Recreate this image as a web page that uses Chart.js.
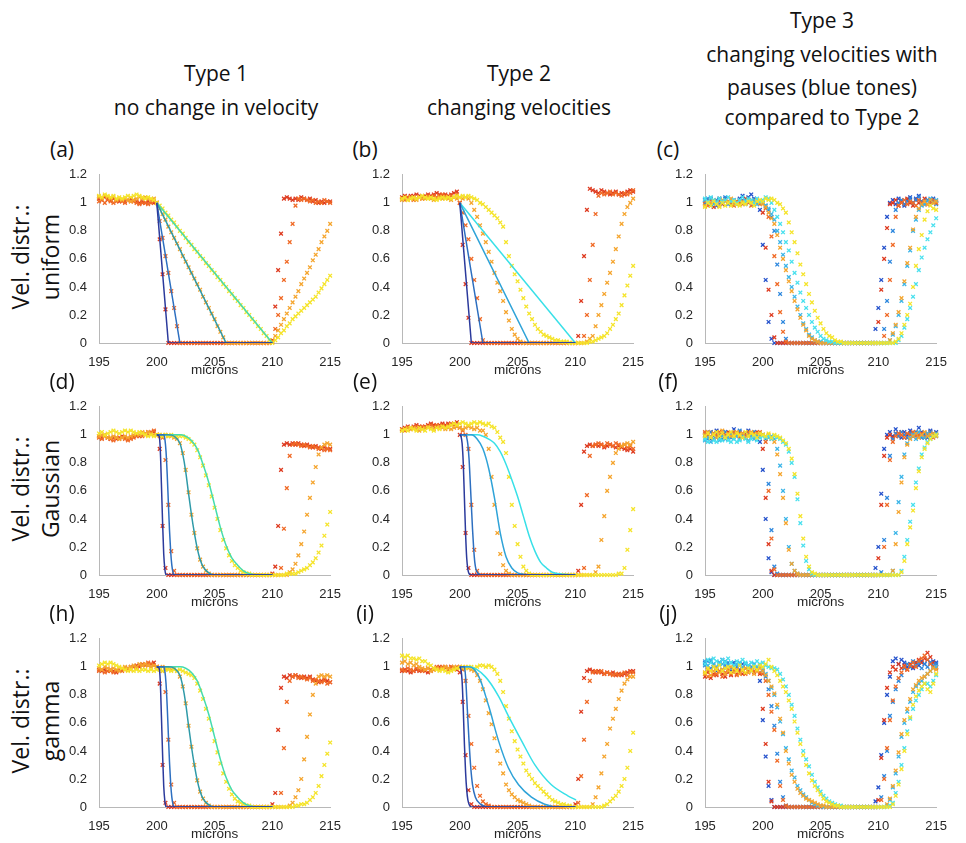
<!DOCTYPE html>
<html lang="en">
<head>
<meta charset="UTF-8">
<title>Velocity distributions - Type 1, 2, 3</title>
<script src="https://cdn.jsdelivr.net/npm/chart.js"></script>
<style>
    body {
        margin: 0px;
        width: 966px;
        height: 843px;
        position: relative;
        overflow: hidden;
        background: white;
        font-family: "Open Sans", sans-serif;
        color: #111;
    }
    /* column titles */
    .head {
        position: absolute;
        width: 320px;
        text-align: center;
        font-size: 21px;
        white-space: nowrap;
        transform: translate(-50%, -50%);
    }
    /* (a), (b) ... */
    .tag {
        position: absolute;
        font-size: 21px;
        transform: translate(-50%, -50%);
    }
    /* rotated row labels */
    .side {
        position: absolute;
        font-size: 23px;
        white-space: nowrap;
        transform: translate(-50%, -50%) rotate(-90deg);
    }
    .box {
        position: absolute;
        width: 291px;
        height: 215px;
    }
</style>
</head>
<body>

<div class="head" style="left:216px; top:73px;">Type 1</div>
<div class="head" style="left:216px; top:107px;">no change in velocity</div>
<div class="head" style="left:519px; top:73px;">Type 2</div>
<div class="head" style="left:519px; top:107px;">changing velocities</div>
<div class="head" style="left:822px; top:20px;">Type 3</div>
<div class="head" style="left:822px; top:54px;">changing velocities with</div>
<div class="head" style="left:822px; top:87px;">pauses (blue tones)</div>
<div class="head" style="left:822px; top:117px;">compared to Type 2</div>

<div class="side" style="left:20px; top:257px;">Vel. distr.:</div>
<div class="side" style="left:50px; top:257px;">uniform</div>
<div class="side" style="left:20px; top:489px;">Vel. distr.:</div>
<div class="side" style="left:50px; top:489px;">Gaussian</div>
<div class="side" style="left:20px; top:721px;">Vel. distr.:</div>
<div class="side" style="left:50px; top:721px;">gamma</div>

<script>
    // shared x positions of the measured points (microns)
    const xs = [195,195.25,195.5,195.75, 196,196.25,196.5,196.75, 197,197.25,197.5,197.75, 198,198.25,198.5,198.75, 199,199.25,199.5,199.75,
        200,200.25,200.5,200.75, 201,201.25,201.5,201.75, 202,202.25,202.5,202.75, 203,203.25,203.5,203.75, 204,204.25,204.5,204.75,
        205,205.25,205.5,205.75, 206,206.25,206.5,206.75, 207,207.25,207.5,207.75, 208,208.25,208.5,208.75, 209,209.25,209.5,209.75,
        210,210.25,210.5,210.75, 211,211.25,211.5,211.75, 212,212.25,212.5,212.75, 213,213.25,213.5,213.75, 214,214.25,214.5,214.75, 215];

    const xTicks = [195, 200, 205, 210, 215];
    const yTicks = [0, 0.2, 0.4, 0.6, 0.8, 1, 1.2];
    const yTickLabels = ['0', '0.2', '0.4', '0.6', '0.8', '1', '1.2'];

    // theory lines, uniform velocity distribution (a, b)
    const uniX1 = [200, 201, 210], uniY1 = [1, 0, 0];
    const uniX2 = [200, 202, 210], uniY2 = [1, 0, 0];
    const uniX3 = [200, 206, 210], uniY3 = [1, 0, 0];
    const uniX4 = [200, 210], uniY4 = [1, 0];

    // theory lines, type 1 gaussian / gamma (d, h)
    const t1X1 = [200,200.2,200.3,200.4,200.5,200.6,200.7,200.8,210];
    const t1Y1 = [1,0.99,0.9,0.65,0.38,0.15,0.04,0,0];
    const t1X2 = [200,200.6,200.7,200.8,200.9,201,201.1,201.2,201.3,201.4,201.5,210];
    const t1Y2 = [1,1,0.97,0.88,0.72,0.52,0.32,0.17,0.07,0.02,0,0];
    const t1X3 = [200,201,201.5,202,202.25,202.5,202.75,203,203.25,203.5,203.75,204,204.5,205,210];
    const t1Y3 = [1,1,0.99,0.94,0.86,0.74,0.58,0.43,0.3,0.19,0.11,0.06,0.015,0,0];
    const t1X4 = [200,202,202.5,203,203.5,204,204.5,205,205.5,206,206.5,207,207.5,208,209,210];
    const t1Y4 = [1,1,0.99,0.96,0.9,0.79,0.66,0.5,0.34,0.21,0.12,0.07,0.03,0.01,0,0];

    // theory lines, type 2 gaussian (e)
    const eX1 = [200,200.1,200.2,200.3,200.4,200.5,200.6,200.7,200.8,201,210];
    const eY1 = [1,0.99,0.94,0.8,0.55,0.3,0.12,0.04,0.01,0,0];
    const eX2 = [200,200.5,200.6,200.7,200.8,200.9,201,201.1,201.2,201.3,201.4,201.6,202,210];
    const eY2 = [1,1,0.98,0.93,0.83,0.67,0.5,0.33,0.19,0.09,0.04,0.01,0,0];
    const eX3 = [200,201,201.5,202,202.5,203,203.5,204,204.5,205,205.5,206,210];
    const eY3 = [1,1,0.97,0.9,0.76,0.55,0.3,0.13,0.05,0.015,0.005,0,0];
    const eX4 = [200,201.5,202,202.5,203,203.5,204,204.5,205,205.5,206,206.5,207,207.5,208,209,210];
    const eY4 = [1,1,0.99,0.97,0.94,0.88,0.79,0.68,0.56,0.42,0.28,0.17,0.09,0.05,0.02,0.005,0];

    // theory lines, type 2 gamma (i)
    const iX1 = [200,200.1,200.2,200.3,200.4,200.5,200.6,200.7,200.8,201,210];
    const iY1 = [1,0.98,0.9,0.7,0.45,0.25,0.12,0.05,0.02,0,0];
    const iX2 = [200,200.4,200.5,200.65,200.8,200.95,201.1,201.35,201.8,202.5,210];
    const iY2 = [1,1,0.93,0.7,0.47,0.28,0.16,0.07,0.02,0,0];
    const iX3 = [200,200.8,201.65,202.5,203.36,204.2,205.07,206.2,207.35,208.5,210];
    const iY3 = [1,1,0.93,0.72,0.47,0.28,0.16,0.07,0.02,0,0];
    const iX4 = [200,200.8,202.2,203.36,204.2,205.36,206.5,207.9,209.35,210.06];
    const iY4 = [1,1,0.93,0.79,0.65,0.47,0.3,0.16,0.08,0.05];

    // (a) type 1, uniform
    const a_red = [1.03,1.02,1.04,1.03, 1.02,1.03,1.02,1.01, 1.02,1.01,1.02,1.03, 1.02,1.01,1.00,1.01, 1.00,1.01,1.02,1.00,
        1.00,0.74,0.49,0.24, 0,0,0,0, 0,0,0,0, 0,0,0,0, 0,0,0,0,
        0,0,0,0, 0,0,0,0, 0,0,0,0, 0,0,0,0, 0,0,0,0,
        0.02,0.26,0.52,0.78, 1.03,1.04,1.03,1.02, 1.03,1.02,1.04,1.03, 1.02,1.03,1.01,1.02, 1.00,1.01,1.00,1.01, 1.01];
    const a_orred = [1.01,1.02,1.00,1.02, 1.01,1.00,1.01,1.02, 1.01,1.00,1.02,1.01, 1.01,1.00,0.99,1.00, 1.00,0.99,1.00,1.01,
        1.00,0.87,0.75,0.62, 0.50,0.37,0.25,0.12, 0,0,0,0, 0,0,0,0, 0,0,0,0,
        0,0,0,0, 0,0,0,0, 0,0,0,0, 0,0,0,0, 0,0,0,0,
        0.01,0.10,0.20,0.32, 0.45,0.58,0.72,0.85, 0.98,1.03,1.02,1.03, 1.02,1.01,1.02,1.00, 1.01,1.00,1.02,1.01, 1.00];
    const a_orng = [1.04,1.03,1.05,1.04, 1.03,1.04,1.02,1.03, 1.02,1.03,1.02,1.01, 1.02,1.03,1.04,1.03, 1.04,1.03,1.02,1.03,
        1.00,0.96,0.92,0.88, 0.83,0.79,0.75,0.71, 0.67,0.62,0.58,0.54, 0.50,0.46,0.42,0.38, 0.33,0.29,0.25,0.21,
        0.17,0.12,0.08,0.04, 0,0,0,0, 0,0,0,0, 0,0,0,0, 0,0,0,0,
        0.01,0.05,0.09,0.13, 0.17,0.21,0.25,0.29, 0.33,0.37,0.42,0.46, 0.50,0.54,0.59,0.63, 0.67,0.72,0.76,0.80, 0.85];
    const a_yel = [1.05,1.04,1.06,1.05, 1.04,1.05,1.03,1.04, 1.03,1.04,1.05,1.04, 1.05,1.06,1.05,1.04, 1.03,1.04,1.03,1.02,
        1.00,0.98,0.96,0.93, 0.91,0.88,0.86,0.83, 0.80,0.78,0.75,0.72, 0.70,0.67,0.65,0.62, 0.60,0.57,0.55,0.52,
        0.50,0.47,0.45,0.42, 0.40,0.37,0.35,0.32, 0.30,0.27,0.25,0.22, 0.20,0.17,0.15,0.12, 0.10,0.07,0.05,0.02,
        0.00,0.02,0.04,0.07, 0.09,0.12,0.14,0.17, 0.19,0.21,0.23,0.25, 0.27,0.29,0.31,0.33, 0.36,0.39,0.42,0.45, 0.48];

    // (b) type 2, uniform
    const b_red = [1.04,1.05,1.04,1.05, 1.05,1.06,1.05,1.04, 1.05,1.06,1.05,1.06, 1.07,1.06,1.05,1.06, 1.05,1.06,1.07,1.08,
        1.00,0.70,0.42,0.18, 0,0,0,0, 0,0,0,0, 0,0,0,0, 0,0,0,0,
        0,0,0,0, 0,0,0,0, 0,0,0,0, 0,0,0,0, 0,0,0,0,
        0.00,0.05,0.30,0.62, 0.95,1.10,1.09,1.08, 1.07,1.09,1.08,1.07, 1.06,1.07,1.08,1.06, 1.07,1.06,1.08,1.09, 1.08];
    const b_orred = [1.03,1.02,1.04,1.03, 1.02,1.03,1.04,1.03, 1.04,1.05,1.04,1.05, 1.04,1.05,1.06,1.05, 1.04,1.05,1.04,1.06,
        1.00,0.93,0.84,0.74, 0.60,0.45,0.32,0.17, 0.02,0,0,0, 0,0,0,0, 0,0,0,0,
        0,0,0,0, 0,0,0,0, 0,0,0,0, 0,0,0,0, 0,0,0,0,
        0,0,0,0.05, 0.20,0.45,0.70,0.92, 1.05,1.07,1.06,1.07, 1.08,1.06,1.07,1.06, 1.05,1.07,1.06,1.07, 1.09];
    const b_orng = [1.02,1.03,1.02,1.04, 1.03,1.02,1.04,1.03, 1.03,1.04,1.03,1.02, 1.03,1.04,1.03,1.04, 1.03,1.02,1.04,1.03,
        1.04,1.03,1.04,1.03, 1.00,0.95,0.90,0.84, 0.78,0.72,0.65,0.58, 0.50,0.43,0.37,0.30, 0.22,0.16,0.10,0.06,
        0.03,0.01,0,0, 0,0,0,0, 0,0,0,0, 0,0,0,0, 0,0,0,0,
        0,0,0,0, 0.01,0.03,0.05,0.12, 0.20,0.27,0.35,0.43, 0.50,0.58,0.67,0.76, 0.85,0.92,0.97,1.00, 1.03];
    const b_yel = [1.03,1.04,1.02,1.03, 1.04,1.03,1.04,1.05, 1.04,1.03,1.04,1.03, 1.02,1.03,1.04,1.03, 1.04,1.03,1.04,1.05,
        1.04,1.05,1.04,1.05, 1.04,1.03,1.02,1.00, 0.99,0.97,0.95,0.93, 0.91,0.89,0.86,0.83, 0.72,0.62,0.55,0.49,
        0.44,0.38,0.32,0.26, 0.21,0.17,0.13,0.10, 0.08,0.06,0.05,0.04, 0.03,0.02,0.02,0.01, 0.01,0.01,0,0,
        0,0,0,0, 0,0.01,0.01,0.02, 0.03,0.04,0.05,0.07, 0.10,0.13,0.17,0.21, 0.27,0.34,0.41,0.48, 0.55];

    // (c) type 3, uniform
    const c_dkblue = [1.02,0.99,1.03,1.01, 0.98,1.02,1.00,1.03, 1.01,0.99,1.02,1.00, 1.03,1.05,1.02,1.04, 1.06,1.03,1.00,0.95,
        0.70,0.45,0.15,0.03, 0,0,0,0, 0,0,0,0, 0,0,0,0, 0,0,0,0,
        0,0,0,0, 0,0,0,0, 0,0,0,0, 0,0,0,0, 0,0,0,0.10,
        0.25,0.45,0.68,0.90, 1.00,1.02,0.99,1.03, 1.01,0.98,1.02,1.04, 1.00,1.03,1.05,1.01, 0.99,1.02,1.00,1.03, 1.01];
    const c_red = [0.99,1.02,1.00,0.97, 1.01,1.03,0.99,1.02, 1.00,1.02,1.01,0.99, 1.02,1.00,1.03,1.01, 1.02,1.00,1.01,1.00,
        0.93,0.68,0.38,0.20, 0.04,0,0,0, 0,0,0,0, 0,0,0,0, 0,0,0,0,
        0,0,0,0, 0,0,0,0, 0,0,0,0, 0,0,0,0, 0,0,0,0,
        0.15,0.38,0.60,0.82, 0.99,1.00,1.02,0.98, 1.01,0.99,1.03,1.00, 0.98,1.02,1.00,1.01, 1.03,0.99,1.01,1.00, 1.00];
    const c_blue = [1.00,1.03,0.98,1.01, 1.02,0.99,1.01,1.04, 0.99,1.02,1.00,1.01, 1.00,1.02,0.99,1.02, 1.01,0.99,1.02,1.00,
        1.00,0.98,0.95,0.90, 0.80,0.56,0.35,0.15, 0.03,0,0,0, 0,0,0,0, 0,0,0,0,
        0,0,0,0, 0,0,0,0, 0,0,0,0, 0,0,0,0, 0,0,0,0,
        0,0,0.10,0.30, 0.58,0.80,0.95,1.00, 1.02,0.99,1.01,1.03, 1.00,1.02,1.04,1.01, 0.99,1.02,1.00,1.01, 0.99];
    const c_orred = [1.01,0.98,1.02,1.00, 0.99,1.01,1.00,1.02, 1.01,1.00,0.98,1.01, 1.00,0.99,1.01,1.00, 0.98,1.01,1.00,0.99,
        1.00,0.96,0.90,0.76, 0.62,0.42,0.22,0.08, 0.01,0,0,0, 0,0,0,0, 0,0,0,0,
        0,0,0,0, 0,0,0,0, 0,0,0,0, 0,0,0,0, 0,0,0,0,
        0,0,0.05,0.20, 0.45,0.70,0.90,0.98, 1.00,1.02,0.99,1.01, 1.00,0.98,1.02,1.00, 1.01,0.99,1.00,1.02, 1.00];
    const c_ltblue = [1.02,1.00,1.03,0.99, 1.01,1.03,1.00,1.02, 1.00,1.02,1.01,0.99, 1.02,1.00,1.02,1.01, 1.00,1.02,0.99,1.01,
        1.00,0.98,0.96,0.92, 0.88,0.80,0.72,0.63, 0.55,0.47,0.40,0.33, 0.26,0.20,0.14,0.10, 0.06,0.04,0.02,0.01,
        0.01,0,0,0, 0,0,0,0, 0,0,0,0, 0,0,0,0, 0,0,0,0,
        0,0,0,0, 0.02,0.06,0.12,0.20, 0.30,0.42,0.55,0.66, 0.80,0.88,0.95,0.98, 0.99,1.01,1.03,1.00, 1.02];
    const c_orng = [0.98,1.01,1.00,1.02, 1.00,0.98,1.02,1.01, 1.01,1.03,0.99,1.00, 0.99,1.01,1.00,1.02, 1.01,1.00,1.02,1.00,
        0.99,0.97,0.93,0.89, 0.85,0.77,0.68,0.60, 0.52,0.44,0.37,0.30, 0.24,0.18,0.13,0.09, 0.05,0.03,0.02,0.01,
        0,0,0,0, 0,0,0,0, 0,0,0,0, 0,0,0,0, 0,0,0,0,
        0,0,0,0, 0.02,0.07,0.13,0.22, 0.32,0.44,0.57,0.68, 0.81,0.90,0.96,0.99, 1.01,0.99,1.02,1.00, 1.01];
    const c_cyan = [1.03,1.01,1.04,1.02, 1.00,1.03,1.01,1.02, 1.04,1.01,1.02,1.00, 1.02,1.04,1.01,1.03, 1.02,1.00,1.03,1.01,
        1.02,1.04,1.03,1.00, 0.95,0.90,0.85,0.79, 0.72,0.66,0.58,0.50, 0.43,0.36,0.30,0.25, 0.20,0.15,0.11,0.08,
        0.05,0.03,0.02,0.01, 0.01,0,0,0, 0,0,0,0, 0,0,0,0, 0,0,0,0,
        0,0,0,0, 0,0,0,0.02, 0.05,0.11,0.17,0.25, 0.33,0.42,0.52,0.61, 0.68,0.74,0.79,0.84, 0.89];
    const c_yel = [0.97,1.00,0.98,1.01, 0.99,0.97,1.00,0.98, 1.00,0.98,1.01,0.99, 0.98,1.00,0.99,1.01, 1.00,0.98,1.01,1.02,
        1.01,1.03,1.02,1.03, 1.02,1.00,0.99,0.96, 0.93,0.86,0.79,0.72, 0.64,0.56,0.49,0.42, 0.35,0.29,0.23,0.18,
        0.14,0.10,0.07,0.05, 0.04,0.02,0.01,0.01, 0,0,0,0, 0,0,0,0, 0,0,0,0,
        0,0,0,0, 0,0,0.01,0.03, 0.07,0.13,0.20,0.28, 0.40,0.55,0.67,0.77, 0.88,0.94,0.98,0.96, 0.95];

    // (d) type 1, gaussian
    const d_red = [0.99,0.98,1.00,0.98, 0.97,0.98,0.97,0.98, 0.99,0.98,0.97,0.98, 0.99,1.00,0.99,1.01, 1.00,1.02,1.01,1.02,
        1.00,0.90,0.35,0.05, 0,0,0,0, 0,0,0,0, 0,0,0,0, 0,0,0,0,
        0,0,0,0, 0,0,0,0, 0,0,0,0, 0,0,0,0, 0,0,0,0,
        0.01,0.06,0.35,0.75, 0.93,0.94,0.93,0.94, 0.93,0.94,0.93,0.92, 0.93,0.92,0.91,0.92, 0.91,0.90,0.91,0.90, 0.90];
    const d_orred = [0.98,0.97,0.99,0.98, 0.97,0.96,0.98,0.97, 0.98,0.97,0.96,0.97, 0.98,0.99,1.00,0.99, 1.01,1.00,1.02,1.03,
        1.00,0.99,0.98,0.82, 0.50,0.17,0.03,0, 0,0,0,0, 0,0,0,0, 0,0,0,0,
        0,0,0,0, 0,0,0,0, 0,0,0,0, 0,0,0,0, 0,0,0,0,
        0,0,0,0.05, 0.33,0.62,0.85,0.93, 0.94,0.93,0.92,0.93, 0.92,0.91,0.92,0.91, 0.90,0.91,0.89,0.90, 0.89];
    const d_orng = [0.99,1.00,0.99,0.98, 0.98,0.99,0.98,0.97, 0.98,0.99,0.98,0.99, 1.00,1.01,1.00,1.02, 1.01,1.02,1.01,1.00,
        1.00,1.00,0.99,1.00, 0.99,0.99,0.98,0.97, 0.94,0.87,0.75,0.59, 0.43,0.30,0.19,0.11, 0.06,0.03,0.01,0,
        0,0,0,0, 0,0,0,0, 0,0,0,0, 0,0,0,0, 0,0,0,0,
        0,0,0,0, 0,0,0.02,0.04, 0.08,0.14,0.22,0.31, 0.43,0.55,0.66,0.77, 0.86,0.91,0.93,0.94, 0.93];
    const d_yel = [1.01,1.02,1.00,1.01, 1.02,1.03,1.02,1.01, 1.02,1.03,1.02,1.03, 1.02,1.01,1.02,1.01, 1.00,0.99,1.00,0.99,
        1.00,1.00,0.99,1.00, 0.99,1.00,0.99,0.99, 0.99,0.99,0.98,0.97, 0.95,0.93,0.89,0.84, 0.78,0.71,0.64,0.56,
        0.48,0.40,0.32,0.25, 0.19,0.14,0.10,0.07, 0.05,0.03,0.02,0.01, 0.01,0,0,0, 0,0,0,0,
        0,0,0,0, 0,0.01,0.01,0.01, 0.01,0.02,0.03,0.04, 0.05,0.07,0.09,0.12, 0.16,0.21,0.28,0.36, 0.45];

    // (e) type 2, gaussian
    const e_red = [1.04,1.05,1.06,1.05, 1.06,1.07,1.06,1.05, 1.06,1.07,1.08,1.07, 1.06,1.07,1.08,1.07, 1.08,1.07,1.08,1.09,
        1.00,0.77,0.30,0.05, 0,0,0,0, 0,0,0,0, 0,0,0,0, 0,0,0,0,
        0,0,0,0, 0,0,0,0, 0,0,0,0, 0,0,0,0, 0,0,0,0,
        0,0.03,0.50,0.88, 0.92,0.93,0.92,0.93, 0.92,0.93,0.91,0.92, 0.93,0.92,0.91,0.92, 0.91,0.90,0.89,0.90, 0.88];
    const e_orred = [1.04,1.03,1.05,1.04, 1.05,1.06,1.05,1.06, 1.05,1.06,1.07,1.06, 1.07,1.06,1.07,1.06, 1.07,1.08,1.07,1.06,
        1.05,1.03,1.00,0.90, 0.50,0.18,0.03,0, 0,0,0,0, 0,0,0,0, 0,0,0,0,
        0,0,0,0, 0,0,0,0, 0,0,0,0, 0,0,0,0, 0,0,0,0,
        0,0,0,0.05, 0.57,0.85,0.92,0.93, 0.94,0.93,0.92,0.94, 0.93,0.92,0.94,0.93, 0.92,0.93,0.91,0.92, 0.90];
    const e_orng = [1.03,1.04,1.05,1.04, 1.05,1.04,1.03,1.04, 1.05,1.06,1.05,1.04, 1.05,1.06,1.05,1.04, 1.05,1.04,1.05,1.06,
        1.05,1.04,1.05,1.06, 1.05,1.04,1.05,1.03, 1.03,1.00,0.90,0.70, 0.50,0.30,0.15,0.07, 0.03,0.01,0,0,
        0,0,0,0, 0,0,0,0, 0,0,0,0, 0,0,0,0, 0,0,0,0,
        0,0,0,0, 0,0,0,0.02, 0.06,0.25,0.42,0.60, 0.70,0.80,0.87,0.90, 0.92,0.93,0.94,0.93, 0.95];
    const e_yel = [1.03,1.04,1.03,1.05, 1.04,1.03,1.05,1.04, 1.03,1.05,1.04,1.03, 1.05,1.04,1.06,1.05, 1.06,1.07,1.08,1.07,
        1.08,1.09,1.08,1.07, 1.08,1.09,1.08,1.09, 1.08,1.07,1.08,1.06, 1.05,1.02,0.98,0.95, 0.87,0.70,0.50,0.35,
        0.22,0.13,0.06,0.03, 0.01,0,0,0, 0,0,0,0, 0,0,0,0, 0,0,0,0,
        0,0,0,0, 0,0,0,0, 0,0,0,0, 0,0,0,0.01, 0.01,0.05,0.18,0.32, 0.47];

    // (f) type 3, gaussian
    const f_dkblue = [0.99,1.02,0.97,1.01, 1.03,0.98,1.00,1.02, 0.99,1.01,1.04,1.00, 1.02,0.98,1.01,1.03, 1.00,1.02,0.99,0.95,
        0.75,0.40,0.12,0.02, 0,0,0,0, 0,0,0,0, 0,0,0,0, 0,0,0,0,
        0,0,0,0, 0,0,0,0, 0,0,0,0, 0,0,0,0, 0,0,0,0.05,
        0.20,0.58,0.90,1.00, 1.02,0.99,1.04,1.01, 0.98,1.02,1.00,1.03, 0.99,1.01,1.05,1.02, 1.00,0.98,1.03,1.01, 1.02];
    const f_red = [1.01,0.98,1.02,1.00, 0.99,1.02,1.01,0.98, 1.02,1.00,0.99,1.01, 0.98,1.01,1.00,0.99, 1.01,0.99,1.02,1.00,
        0.90,0.55,0.22,0.03, 0,0,0,0, 0,0,0,0, 0,0,0,0, 0,0,0,0,
        0,0,0,0, 0,0,0,0, 0,0,0,0, 0,0,0,0, 0,0,0,0,
        0.12,0.50,0.85,0.98, 1.00,0.98,1.01,0.99, 1.02,1.00,0.98,1.01, 1.00,1.02,0.99,1.01, 0.98,1.00,1.02,0.99, 1.01];
    const f_blue = [1.00,0.97,1.02,0.99, 1.01,1.00,0.97,1.02, 1.00,0.98,1.01,0.99, 1.03,1.00,0.98,1.01, 0.99,1.02,1.00,1.01,
        1.00,0.97,0.65,0.32, 0.06,0.01,0,0, 0,0,0,0, 0,0,0,0, 0,0,0,0,
        0,0,0,0, 0,0,0,0, 0,0,0,0, 0,0,0,0, 0,0,0,0,
        0,0.02,0.25,0.55, 0.85,0.97,1.01,0.99, 1.02,1.00,0.98,1.01, 0.99,1.02,1.00,0.98, 1.01,0.99,1.02,1.00, 0.99];
    const f_orred = [1.02,1.00,0.98,1.01, 1.00,1.02,0.99,1.00, 0.98,1.01,1.02,1.00, 1.01,0.99,1.00,1.02, 1.00,1.01,0.99,1.02,
        1.00,0.95,0.60,0.26, 0.04,0,0,0, 0,0,0,0, 0,0,0,0, 0,0,0,0,
        0,0,0,0, 0,0,0,0, 0,0,0,0, 0,0,0,0, 0,0,0,0,
        0,0,0.20,0.50, 0.82,0.95,0.99,1.01, 1.00,0.98,1.01,1.00, 1.02,0.99,1.00,1.01, 0.99,1.01,1.00,0.98, 1.00];
    const f_ltblue = [0.96,0.98,0.95,0.97, 0.98,0.96,0.99,0.97, 0.98,1.00,0.97,0.99, 0.97,0.99,0.98,0.96, 0.99,0.97,1.00,0.98,
        1.00,0.99,0.98,0.99, 0.97,0.90,0.78,0.60, 0.40,0.20,0.08,0.03, 0.01,0,0,0, 0,0,0,0,
        0,0,0,0, 0,0,0,0, 0,0,0,0, 0,0,0,0, 0,0,0,0,
        0,0,0,0, 0,0.03,0.30,0.52, 0.70,0.86,0.94,0.98, 1.00,0.97,1.02,0.99, 0.98,1.01,0.99,1.00, 1.01];
    const f_orng = [1.00,1.02,0.99,1.01, 0.98,1.01,1.03,0.99, 1.01,0.99,1.00,1.02, 0.99,1.01,0.98,1.00, 1.02,0.99,1.01,1.00,
        1.00,0.98,1.00,0.97, 0.95,0.86,0.72,0.55, 0.37,0.18,0.08,0.03, 0.01,0,0,0, 0,0,0,0,
        0,0,0,0, 0,0,0,0, 0,0,0,0, 0,0,0,0, 0,0,0,0,
        0,0,0,0, 0,0.03,0.22,0.45, 0.66,0.84,0.93,0.97, 0.99,1.01,0.98,1.00, 1.02,0.99,1.00,1.01, 0.99];
    const f_cyan = [0.97,0.95,0.98,0.96, 0.95,0.97,0.96,0.98, 0.96,0.95,0.97,0.95, 0.96,0.98,0.97,0.95, 0.97,0.99,0.96,0.98,
        0.99,0.98,0.99,0.97, 0.99,0.98,0.97,0.95, 0.93,0.88,0.80,0.70, 0.54,0.37,0.21,0.10, 0.04,0.01,0,0,
        0,0,0,0, 0,0,0,0, 0,0,0,0, 0,0,0,0, 0,0,0,0,
        0,0,0,0, 0,0,0,0, 0.03,0.13,0.25,0.38, 0.50,0.66,0.76,0.86, 0.91,0.95,0.97,0.99, 1.00];
    const f_yel = [0.99,1.01,0.98,1.00, 1.02,0.99,1.01,0.98, 1.00,1.02,0.99,1.01, 1.00,0.98,1.02,0.99, 1.01,1.00,0.98,1.01,
        1.00,0.99,1.01,0.98, 1.00,0.99,0.98,0.96, 0.94,0.90,0.83,0.72, 0.58,0.42,0.26,0.13, 0.06,0.02,0.01,0,
        0,0,0,0, 0,0,0,0, 0,0,0,0, 0,0,0,0, 0,0,0,0,
        0,0,0,0, 0,0,0,0, 0.02,0.10,0.22,0.34, 0.46,0.62,0.74,0.84, 0.90,0.94,0.97,0.99, 1.00];

    // (h) type 1, gamma
    const h_red = [0.98,0.97,0.98,0.97, 0.98,0.97,0.96,0.97, 0.98,0.99,0.98,1.00, 1.00,1.01,1.00,1.01, 1.02,1.01,1.02,1.03,
        1.00,0.88,0.30,0.03, 0,0,0,0, 0,0,0,0, 0,0,0,0, 0,0,0,0,
        0,0,0,0, 0,0,0,0, 0,0,0,0, 0,0,0,0, 0,0,0,0,
        0.02,0.10,0.55,0.85, 0.93,0.92,0.94,0.93, 0.94,0.93,0.92,0.93, 0.92,0.93,0.91,0.90, 0.89,0.90,0.91,0.90, 0.89];
    const h_orred = [0.97,0.98,0.96,0.97, 0.97,0.96,0.97,0.98, 0.97,0.98,0.99,0.98, 1.00,0.99,1.01,1.02, 1.01,1.03,1.02,1.01,
        1.00,0.99,0.97,0.82, 0.48,0.16,0.03,0, 0,0,0,0, 0,0,0,0, 0,0,0,0,
        0,0,0,0, 0,0,0,0, 0,0,0,0, 0,0,0,0, 0,0,0,0,
        0,0,0,0.10, 0.42,0.75,0.90,0.93, 0.94,0.92,0.93,0.92, 0.91,0.92,0.90,0.91, 0.90,0.89,0.90,0.88, 0.89];
    const h_orng = [0.99,0.98,1.00,0.99, 0.98,0.99,0.98,0.97, 0.99,1.00,0.99,1.00, 1.01,1.00,1.02,1.01, 1.02,1.01,1.00,1.01,
        1.00,0.99,1.00,0.99, 0.99,0.98,0.99,0.97, 0.93,0.86,0.74,0.58, 0.43,0.30,0.19,0.11, 0.06,0.03,0.01,0,
        0,0,0,0, 0,0,0,0, 0,0,0,0, 0,0,0,0, 0,0,0,0,
        0,0,0,0, 0,0,0.01,0.03, 0.07,0.12,0.20,0.34, 0.50,0.66,0.80,0.88, 0.93,0.94,0.93,0.94, 0.93];
    const h_yel = [1.01,1.02,1.03,1.02, 1.03,1.02,1.01,1.00, 0.99,0.98,0.97,0.98, 0.97,0.98,0.97,0.98, 0.98,0.97,0.98,0.97,
        0.98,0.98,0.97,0.98, 0.98,0.97,0.98,0.97, 0.98,0.97,0.96,0.95, 0.94,0.92,0.88,0.83, 0.77,0.70,0.63,0.55,
        0.47,0.39,0.31,0.24, 0.18,0.13,0.09,0.06, 0.04,0.03,0.02,0.01, 0.01,0,0,0, 0,0,0,0,
        0,0,0,0, 0,0,0,0, 0.01,0.01,0.02,0.02, 0.03,0.05,0.07,0.10, 0.15,0.22,0.30,0.38, 0.46];

    // (i) type 2, gamma
    const i_red = [0.97,0.98,0.97,0.96, 0.97,0.98,0.97,0.98, 0.97,0.96,0.97,0.98, 0.99,1.00,0.99,1.00, 0.99,1.00,0.99,0.98,
        0.96,0.75,0.37,0.12, 0.02,0,0,0, 0,0,0,0, 0,0,0,0, 0,0,0,0,
        0,0,0,0, 0,0,0,0, 0,0,0,0, 0,0,0,0, 0,0,0,0,
        0.02,0.20,0.68,0.92, 0.97,0.98,0.97,0.96, 0.97,0.96,0.95,0.96, 0.95,0.96,0.94,0.95, 0.94,0.95,0.96,0.97, 0.97];
    const i_orred = [0.98,0.97,0.99,0.98, 0.97,0.99,0.98,0.97, 0.98,0.99,0.98,0.99, 1.00,0.99,1.00,0.99, 0.98,1.00,0.99,1.00,
        1.00,0.98,0.90,0.65, 0.45,0.28,0.15,0.08, 0.04,0.02,0.01,0, 0,0,0,0, 0,0,0,0,
        0,0,0,0, 0,0,0,0, 0,0,0,0, 0,0,0,0, 0,0,0,0,
        0,0.03,0.22,0.48, 0.75,0.90,0.96,0.97, 0.96,0.97,0.95,0.96, 0.95,0.94,0.95,0.94, 0.95,0.96,0.94,0.96, 0.96];
    const i_orng = [1.03,1.04,1.02,1.03, 1.01,1.02,1.00,0.99, 0.98,0.99,0.97,0.98, 0.99,0.98,0.99,1.00, 0.99,0.98,1.00,0.99,
        1.00,0.99,1.00,0.99, 0.98,0.97,0.94,0.90, 0.84,0.76,0.67,0.59, 0.49,0.40,0.31,0.24, 0.16,0.12,0.09,0.07,
        0.05,0.04,0.03,0.02, 0.01,0,0,0, 0,0,0,0, 0,0,0,0, 0,0,0,0,
        0,0,0,0, 0,0,0.02,0.07, 0.14,0.24,0.36,0.45, 0.56,0.63,0.70,0.77, 0.83,0.88,0.91,0.93, 0.93];
    const i_yel = [1.08,1.07,1.08,1.06, 1.06,1.05,1.06,1.04, 1.04,1.02,1.01,0.99, 0.98,0.97,0.98,0.97, 0.96,0.97,0.98,0.99,
        0.99,1.00,0.99,1.00, 1.00,0.99,1.00,1.01, 1.01,1.00,1.01,1.00, 0.98,0.95,0.90,0.82, 0.72,0.63,0.54,0.47,
        0.41,0.36,0.31,0.26, 0.23,0.20,0.17,0.15, 0.13,0.11,0.09,0.07, 0.05,0.04,0.03,0.02, 0.02,0.01,0.01,0,
        0,0,0,0, 0,0,0,0, 0,0,0.01,0.02, 0.04,0.06,0.08,0.11, 0.15,0.20,0.28,0.40, 0.53];

    // (j) type 3, gamma
    const j_dkblue = [1.03,0.98,1.04,1.00, 0.97,1.02,1.05,0.99, 1.01,0.97,1.03,1.00, 0.98,1.02,0.99,1.01, 0.97,1.00,0.98,0.90,
        0.62,0.36,0.15,0.05, 0,0,0,0, 0,0,0,0, 0,0,0,0, 0,0,0,0,
        0,0,0,0, 0,0,0,0, 0,0,0,0, 0,0,0,0, 0,0,0,0.04,
        0.14,0.37,0.60,0.80, 0.93,1.04,1.06,1.02, 1.05,1.03,1.00,1.02, 0.99,1.03,1.01,1.04, 1.02,1.05,1.03,1.04, 1.03];
    const j_red = [0.93,0.96,0.92,0.95, 0.94,0.97,0.95,0.93, 0.96,0.94,0.98,0.95, 0.97,0.95,0.99,0.96, 0.98,0.96,0.97,0.95,
        0.70,0.45,0.18,0.04, 0,0,0,0, 0,0,0,0, 0,0,0,0, 0,0,0,0,
        0,0,0,0, 0,0,0,0, 0,0,0,0, 0,0,0,0, 0,0,0,0,
        0.05,0.35,0.62,0.85, 0.96,1.00,0.98,1.02, 0.99,1.01,0.98,1.02, 1.00,1.03,1.05,1.03, 1.06,1.10,1.07,1.03, 1.00];
    const j_blue = [1.01,1.04,0.99,1.02, 1.00,1.03,0.98,1.01, 1.03,0.99,1.02,1.00, 1.01,0.98,1.02,0.99, 1.00,1.02,0.99,1.01,
        0.97,0.93,0.84,0.72, 0.58,0.38,0.18,0.07, 0.01,0,0,0, 0,0,0,0, 0,0,0,0,
        0,0,0,0, 0,0,0,0, 0,0,0,0, 0,0,0,0, 0,0,0,0,
        0,0.07,0.22,0.40, 0.65,0.75,0.84,0.90, 0.94,0.99,1.02,1.00, 1.04,1.01,1.03,0.99, 1.02,1.00,1.03,1.01, 1.02];
    const j_orred = [0.96,0.93,0.97,0.94, 0.95,0.97,0.93,0.96, 0.98,0.95,0.97,0.94, 0.96,0.98,0.95,0.97, 0.99,0.97,0.98,0.96,
        0.95,0.90,0.80,0.68, 0.55,0.33,0.15,0.05, 0.01,0,0,0, 0,0,0,0, 0,0,0,0,
        0,0,0,0, 0,0,0,0, 0,0,0,0, 0,0,0,0, 0,0,0,0,
        0,0.05,0.20,0.42, 0.62,0.76,0.86,0.92, 0.96,1.00,0.98,1.01, 1.03,1.00,1.04,1.06, 1.08,1.05,1.02,1.00, 0.99];
    const j_ltblue = [1.04,1.01,1.05,1.02, 1.00,1.03,1.02,1.04, 1.01,1.03,1.00,1.02, 1.03,1.00,1.02,1.01, 0.99,1.02,1.00,1.01,
        0.98,0.95,0.90,0.85, 0.80,0.71,0.61,0.52, 0.42,0.34,0.26,0.21, 0.15,0.12,0.09,0.07, 0.05,0.03,0.02,0.01,
        0.01,0,0,0, 0,0,0,0, 0,0,0,0, 0,0,0,0, 0,0,0,0,
        0,0,0,0.01, 0.05,0.14,0.24,0.36, 0.50,0.60,0.68,0.75, 0.82,0.86,0.88,0.90, 0.93,0.95,0.97,0.99, 1.00];
    const j_orng = [0.95,0.98,0.94,0.97, 0.99,0.96,0.98,0.95, 0.97,1.00,0.96,0.98, 0.95,0.97,0.99,0.96, 0.98,0.95,0.97,0.99,
        0.97,0.94,0.90,0.86, 0.81,0.73,0.63,0.53, 0.40,0.31,0.23,0.18, 0.13,0.10,0.08,0.06, 0.05,0.04,0.03,0.02,
        0.01,0.01,0,0, 0,0,0,0, 0,0,0,0, 0,0,0,0, 0,0,0,0,
        0,0,0,0.02, 0.06,0.15,0.26,0.39, 0.52,0.62,0.70,0.77, 0.84,0.87,0.90,0.92, 0.93,0.95,0.97,0.99, 0.98];
    const j_cyan = [1.02,1.05,1.03,1.06, 1.04,1.02,1.05,1.03, 1.06,1.03,1.01,1.04, 1.02,1.05,1.03,1.01, 1.03,1.01,1.04,1.02,
        1.03,1.01,1.00,0.99, 0.99,0.98,0.95,0.91, 0.86,0.80,0.73,0.65, 0.56,0.48,0.40,0.34, 0.29,0.23,0.18,0.14,
        0.11,0.08,0.06,0.04, 0.03,0.02,0.01,0.01, 0,0,0,0, 0,0,0,0, 0,0,0,0,
        0,0,0,0, 0.01,0.03,0.10,0.18, 0.30,0.42,0.54,0.63, 0.70,0.76,0.80,0.84, 0.88,0.88,0.86,0.90, 0.94];
    const j_yel = [0.96,0.99,0.97,1.00, 0.98,1.01,0.97,0.99, 1.00,0.96,0.99,0.97, 1.01,0.98,0.96,0.99, 0.97,1.00,0.98,1.01,
        1.00,1.02,1.05,1.00, 0.97,0.94,0.90,0.86, 0.82,0.76,0.70,0.61, 0.53,0.45,0.37,0.30, 0.24,0.19,0.15,0.12,
        0.09,0.06,0.04,0.03, 0.02,0.01,0.01,0, 0,0,0,0, 0,0,0,0, 0,0,0,0,
        0,0,0,0, 0,0.02,0.08,0.16, 0.27,0.40,0.52,0.64, 0.73,0.79,0.83,0.86, 0.88,0.84,0.82,0.88, 0.95];

    // colours
    const RED = '#de3a1f', ORRED = '#f06a26', ORNG = '#f5a52e', YEL = '#f5e42a';
    const DKBLUE = '#2552cc', BLUE = '#2e88de', LTBLUE = '#3cb5e8', CYAN = '#48e0ee';
    const type1Lines = ['#2b3a9c', '#2d6fc0', '#2f9aa8', '#45dcae'];
    const type2Lines = ['#2b3a9c', '#2d6fc0', '#2fa3d8', '#38e0e8'];

    const colLeft = [99, 402, 705];
    const rowTop = [171, 403, 635];

    const panels = [
        {tag: '(a)', c: 0, r: 0, smooth: false, lc: type1Lines,
            lines: [[uniX1, uniY1], [uniX2, uniY2], [uniX3, uniY3], [uniX4, uniY4]],
            pts: [[a_red, RED], [a_orred, ORRED], [a_orng, ORNG], [a_yel, YEL]]},
        {tag: '(b)', c: 1, r: 0, smooth: false, lc: type2Lines,
            lines: [[uniX1, uniY1], [uniX2, uniY2], [uniX3, uniY3], [uniX4, uniY4]],
            pts: [[b_red, RED], [b_orred, ORRED], [b_orng, ORNG], [b_yel, YEL]]},
        {tag: '(c)', c: 2, r: 0, lines: [],
            pts: [[c_dkblue, DKBLUE], [c_red, RED], [c_blue, BLUE], [c_orred, ORRED],
                  [c_ltblue, LTBLUE], [c_orng, ORNG], [c_cyan, CYAN], [c_yel, YEL]]},
        {tag: '(d)', c: 0, r: 1, smooth: true, lc: type1Lines,
            lines: [[t1X1, t1Y1], [t1X2, t1Y2], [t1X3, t1Y3], [t1X4, t1Y4]],
            pts: [[d_red, RED], [d_orred, ORRED], [d_orng, ORNG], [d_yel, YEL]]},
        {tag: '(e)', c: 1, r: 1, smooth: true, lc: type2Lines,
            lines: [[eX1, eY1], [eX2, eY2], [eX3, eY3], [eX4, eY4]],
            pts: [[e_red, RED], [e_orred, ORRED], [e_orng, ORNG], [e_yel, YEL]]},
        {tag: '(f)', c: 2, r: 1, lines: [],
            pts: [[f_dkblue, DKBLUE], [f_red, RED], [f_blue, BLUE], [f_orred, ORRED],
                  [f_ltblue, LTBLUE], [f_orng, ORNG], [f_cyan, CYAN], [f_yel, YEL]]},
        {tag: '(h)', c: 0, r: 2, smooth: true, lc: type1Lines,
            lines: [[t1X1, t1Y1], [t1X2, t1Y2], [t1X3, t1Y3], [t1X4, t1Y4]],
            pts: [[h_red, RED], [h_orred, ORRED], [h_orng, ORNG], [h_yel, YEL]]},
        {tag: '(i)', c: 1, r: 2, smooth: true, lc: type2Lines,
            lines: [[iX1, iY1], [iX2, iY2], [iX3, iY3], [iX4, iY4]],
            pts: [[i_red, RED], [i_orred, ORRED], [i_orng, ORNG], [i_yel, YEL]]},
        {tag: '(j)', c: 2, r: 2, lines: [],
            pts: [[j_dkblue, DKBLUE], [j_red, RED], [j_blue, BLUE], [j_orred, ORRED],
                  [j_ltblue, LTBLUE], [j_orng, ORNG], [j_cyan, CYAN], [j_yel, YEL]]}
    ];

    Chart.defaults.font.family = '"Liberation Sans", Arial, sans-serif';
    Chart.defaults.color = '#262626';

    function toXY(lx, ly) {
        return lx.map((x, i) => ({x: x, y: ly[i]}));
    }

    panels.forEach(function (p) {
        const left = colLeft[p.c], top = rowTop[p.r];

        const tag = document.createElement('div');
        tag.className = 'tag';
        tag.textContent = p.tag;
        tag.style.left = (left - 37) + 'px';
        tag.style.top = (top - 22) + 'px';
        document.body.appendChild(tag);

        const box = document.createElement('div');
        box.className = 'box';
        box.style.left = (left - 45) + 'px';
        box.style.top = (top - 8) + 'px';
        const cv = document.createElement('canvas');
        cv.width = 291;
        cv.height = 215;
        box.appendChild(cv);
        document.body.appendChild(box);

        const datasets = [];
        p.lines.forEach(function (l, k) {
            datasets.push({
                data: toXY(l[0], l[1]),
                showLine: true,
                borderColor: p.lc[k],
                borderWidth: 1.5,
                pointRadius: 0,
                tension: p.smooth ? 0.35 : 0,
                cubicInterpolationMode: p.smooth ? 'monotone' : 'default',
                order: 0
            });
        });
        p.pts.forEach(function (s, k) {
            if (s[0].length !== xs.length) console.error(p.tag, k, s[0].length);
            datasets.push({
                data: toXY(xs, s[0]),
                showLine: false,
                pointStyle: 'crossRot',
                pointRadius: 2.6,
                pointBorderWidth: 1.3,
                borderColor: s[1],
                backgroundColor: s[1],
                clip: false,
                order: p.pts.length - k
            });
        });

        new Chart(cv, {
            type: 'scatter',
            data: {datasets: datasets},
            options: {
                responsive: false,
                animation: false,
                devicePixelRatio: 1,
                events: [],
                layout: {padding: {top: 8, right: 12, left: 0, bottom: 0}},
                plugins: {legend: {display: false}, tooltip: {enabled: false}},
                scales: {
                    x: {
                        type: 'linear', min: 195, max: 215,
                        afterBuildTicks: function (s) { s.ticks = xTicks.map(v => ({value: v})); },
                        afterFit: function (s) { s.height = 35; },
                        ticks: {font: {size: 13}, padding: 4, maxRotation: 0, autoSkip: false,
                            callback: v => String(v)},
                        grid: {display: false},
                        border: {color: '#b8b8b8'},
                        title: {display: true, text: 'microns', font: {size: 13.5}, padding: 0}
                    },
                    y: {
                        type: 'linear', min: 0, max: 1.2,
                        afterBuildTicks: function (s) { s.ticks = yTicks.map(v => ({value: v})); },
                        afterFit: function (s) { s.width = 45; },
                        ticks: {font: {size: 13}, padding: 4,
                            callback: (v, i) => yTickLabels[i]},
                        grid: {display: false},
                        border: {color: '#b8b8b8'}
                    }
                }
            }
        });
    });
</script>
</body>
</html>
